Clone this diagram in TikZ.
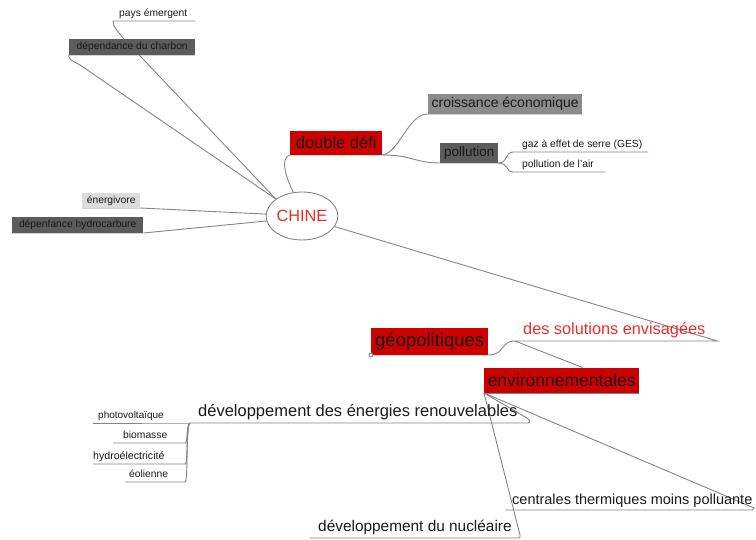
\documentclass[tikz,border=0pt]{standalone}
\usepackage{fontspec}
\setmainfont{Liberation Sans}
\usetikzlibrary{shapes.geometric}
\pgfdeclarelayer{bg}
\pgfsetlayers{bg,main}
\definecolor{rbox}{HTML}{CC0000}
\definecolor{dbox}{HTML}{5C5C5C}
\definecolor{mbox}{HTML}{8C8C8C}
\definecolor{lbox}{HTML}{DCDCDC}
\definecolor{lncol}{HTML}{858585}
\definecolor{txt}{HTML}{1A1A1A}
\definecolor{redtxt}{HTML}{EE2A2A}
\newcommand\fs[1]{\fontsize{#1pt}{#1pt}\selectfont}
\newcommand\ubx[3]{\makebox[#1pt][l]{\hspace*{#2pt}#3}}
\begin{document}
\begin{tikzpicture}[x=1pt,y=-1pt,
  ln/.style={draw=lncol, line width=0.9pt},
  boxnode/.style={anchor=south west, inner sep=0pt, text=txt},
  ulnode/.style={anchor=south west, inner sep=0pt, text=txt},
  small/.style={font=\fs{10.3}, text depth=4pt},
]
\useasboundingbox (0,0) rectangle (756,540);

% ---- nodes
\node[ellipse, draw=lncol, fill=white, line width=0.9pt, minimum width=66pt, minimum height=48pt,
      inner sep=0pt, text=redtxt, font=\fs{16.3}] (chine) at (302,216) {CHINE};

\node[ulnode, small] (pays) at (113,21) {\ubx{82}{6}{pays émergent}};
\node[boxnode, fill=dbox, minimum width=126pt, minimum height=16pt, font=\fs{10.3}] (charbon) at (69,55) {dépendance du charbon};
\node[boxnode, fill=lbox, minimum width=58pt, minimum height=15pt, font=\fs{10.3}] (energ) at (82,208) {énergivore};
\node[boxnode, fill=dbox, minimum width=131pt, minimum height=16pt, font=\fs{10.3}] (hydrocarb) at (12,233) {dépenfance hydrocarbure};

\node[boxnode, fill=rbox, minimum width=92pt, minimum height=24pt, font=\fs{16.5}] (dd) at (290,155) {double défi};
\node[boxnode, fill=mbox, minimum width=154pt, minimum height=20pt, font=\fs{14}] (croiss) at (428,114) {croissance économique};
\node[boxnode, fill=dbox, minimum width=58pt, minimum height=20pt, font=\fs{13.5}] (poll) at (440,163) {pollution};
\node[ulnode, small] (gaz) at (513,152) {\ubx{135}{9}{gaz à effet de serre (GES)}};
\node[ulnode, small] (air) at (513,172) {\ubx{92}{9}{pollution de l'air}};

\node[ulnode, font=\fs{16.3}, text depth=6.5pt, text=redtxt] (sol) at (515,341) {\ubx{202}{8}{des solutions envisagées}};
\node[boxnode, fill=rbox, minimum width=117pt, minimum height=27pt, font=\fs{18.5}] (geo) at (371,355) {géopolitiques};
\node[boxnode, fill=rbox, minimum width=155pt, minimum height=25pt, font=\fs{17.5}] (env) at (484,393) {environnementales};

\node[ulnode, font=\fs{16.5}, text depth=6.4pt] (ren) at (190,423) {\ubx{338}{8}{développement des énergies renouvelables}};
\node[ulnode, font=\fs{10}, text depth=4pt] (photo) at (93,423) {\ubx{97}{5}{photovoltaïque}};
\node[ulnode, small] (bio) at (113,443) {\ubx{72}{10}{biomasse}};
\node[ulnode, font=\fs{10.6}, text depth=4pt] (hydroel) at (93,464) {\ubx{92}{0}{hydroélectricité}};
\node[ulnode, small] (eol) at (125,482) {\ubx{60}{4}{éolienne}};

\node[ulnode, font=\fs{14.5}, text depth=5.8pt] (cent) at (505,510) {\ubx{247}{7}{centrales thermiques moins polluante}};
\node[ulnode, font=\fs{15.4}, text depth=5.9pt] (nuc) at (310,538) {\ubx{208}{8}{développement du nucléaire}};

\node[circle, draw=lncol, fill=white, line width=0.9pt, inner sep=0pt, minimum size=4pt] (dot) at (geo.south west) {};

% ---- connectors
\begin{pgfonlayer}{bg}
\draw[ln] (pays.south east) -- (pays.south west) .. controls (113,28) and (119,32) .. (123,38) -- (chine.147);
\draw[ln] (charbon.south east) -- (charbon.south west) .. controls (68,58) and (70,60) .. (80,65) -- (chine.147);
\draw[ln] (energ.south west) -- (energ.south east) -- (chine.177);
\draw[ln] (hydrocarb.south west) -- (hydrocarb.south east) -- (chine.188);

\draw[ln] (chine.110) .. controls (287,180) and (279,158) .. (dd.south west) -- (dd.south east);
\draw[ln] (dd.south east) .. controls (400,152) and (408,114) .. (croiss.south west) -- (croiss.south east);
\draw[ln] (dd.south east) .. controls (412,155) and (415,163) .. (poll.south west) -- (poll.south east);
\draw[ln] (poll.south east) .. controls (508,163) and (505,152) .. (gaz.south west) -- (gaz.south east);
\draw[ln] (poll.south east) .. controls (508,163) and (506,172) .. (air.south west) -- (air.south east);

\draw[ln] (chine.-18) -- (sol.south east) -- (sol.south west);
\draw[ln] (dot) -- (geo.south east) .. controls (505,355) and (500,341) .. (sol.south west);
\draw[ln] (sol.south west) -- ([xshift=21pt]env.north);
\draw[ln] (env.south west) -- (env.south east);

\draw[ln] (env.south west) -- (527,418) .. controls (531,421) and (530,423) .. (ren.south east) -- (ren.south west);
\draw[ln] (env.south west) -- (754,508) -- (cent.south east) -- (cent.south west);
\draw[ln] (env.south west) -- (519,531) .. controls (521,537) and (520,538) .. (nuc.south east) -- (nuc.south west);

\draw[ln] (ren.south west) -- (photo.south east) -- (photo.south west);
\draw[ln] (ren.south west) .. controls (186,425) and (188,441) .. (bio.south east) -- (bio.south west);
\draw[ln] (ren.south west) .. controls (186,425) and (188,461) .. (hydroel.south east) -- (hydroel.south west);
\draw[ln] (ren.south west) .. controls (186,425) and (188,479) .. (eol.south east) -- (eol.south west);
\end{pgfonlayer}
\end{tikzpicture}
\end{document}
